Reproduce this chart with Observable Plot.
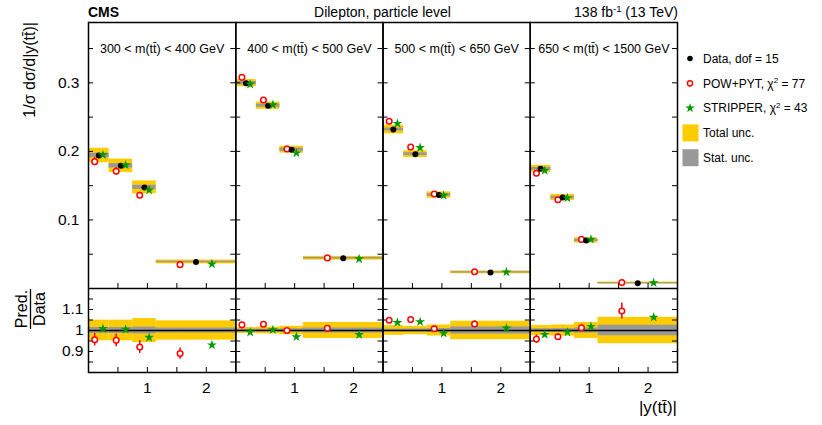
<!DOCTYPE html>
<html><head><meta charset="utf-8">
<script src="https://cdn.jsdelivr.net/npm/d3@7"></script>
<script src="https://cdn.jsdelivr.net/npm/@observablehq/plot@0.6"></script>
<style>
body{margin:0;background:#fff;}
#root{position:relative;width:822px;height:425px;overflow:hidden;background:#fff;}
#root svg{position:absolute;left:0;}
</style></head><body><div id="root"></div>
<script>
// ---------------- data ----------------
const binEdges = [0, 0.35, 0.75, 1.15, 2.5];
const panelLabels = [
  "300 < m(tt\u0304) < 400 GeV",
  "400 < m(tt\u0304) < 500 GeV",
  "500 < m(tt\u0304) < 650 GeV",
  "650 < m(tt\u0304) < 1500 GeV"
];
const dataValues = [
  [0.194, 0.179, 0.1475, 0.0387],
  [0.2995, 0.2667, 0.2025, 0.0441],
  [0.2319, 0.196, 0.1363, 0.0235],
  [0.1745, 0.1328, 0.0701, 0.0078]
];
const powValues = [
  [0.185, 0.171, 0.136, 0.0348],
  [0.308, 0.275, 0.2034, 0.0446],
  [0.244, 0.2063, 0.1378, 0.0245],
  [0.168, 0.1294, 0.0716, 0.0086]
];
const stripperValues = [
  [0.195, 0.180, 0.1436, 0.0357],
  [0.298, 0.268, 0.1975, 0.0431],
  [0.2407, 0.2054, 0.1358, 0.0240],
  [0.172, 0.132, 0.0716, 0.0083]
];
const powRatio = [
  [0.956, 0.953, 0.921, 0.890],
  [1.027, 1.030, 1.000, 1.011],
  [1.049, 1.052, 1.008, 1.031],
  [0.959, 0.970, 1.013, 1.093]
];
const stripperRatio = [
  [1.009, 1.005, 0.967, 0.931],
  [0.992, 1.003, 0.970, 0.980],
  [1.038, 1.041, 0.987, 1.011],
  [0.981, 0.992, 1.019, 1.063]
];
const powRatioErr = [
  [0.030, 0.030, 0.030, 0.027],
  [0.005, 0.005, 0.006, 0.006],
  [0.006, 0.006, 0.012, 0.015],
  [0.020, 0.016, 0.016, 0.038]
];
const stripperRatioErr = [
  [0.008, 0.008, 0.008, 0.008],
  [0.008, 0.008, 0.012, 0.010],
  [0.006, 0.006, 0.008, 0.008],
  [0.006, 0.006, 0.006, 0.008]
];
const totalRelUnc = [
  [0.049, 0.049, 0.057, 0.046],
  [0.014, 0.016, 0.020, 0.038],
  [0.023, 0.020, 0.026, 0.044],
  [0.024, 0.026, 0.038, 0.063]
];
const statRelUnc = [
  [0.014, 0.014, 0.016, 0.012],
  [0.006, 0.006, 0.008, 0.012],
  [0.006, 0.007, 0.009, 0.017],
  [0.008, 0.009, 0.012, 0.025]
];
const yTicksTop = [0.05, 0.1, 0.15, 0.2, 0.25, 0.3, 0.35];
const yLabelsTop = [0.1, 0.2, 0.3];
const yTicksRatio = [0.85, 0.9, 0.95, 1, 1.05, 1.1, 1.15];
const yLabelsRatio = [0.9, 1, 1.1];
const xTicks = [0.5, 1, 1.5, 2];
const xLabels = [1, 2];
const legendLabels = ["Data, dof = 15", "POW+PYT, \u03c7", "STRIPPER, \u03c7", "Total unc.", "Stat. unc."];
const legendChi2 = [null, "77", "43", null, null];

// ---------------- build table ----------------
const rows = [];
panelLabels.forEach((lab, p) => {
  for (let b = 0; b < binEdges.length - 1; b++) {
    const lo = binEdges[b], hi = binEdges[b + 1], w = hi - lo, c = (lo + hi) / 2;
    rows.push({
      panel: p, lo, hi, c, xp: c - 0.2 * w, xs: c + 0.2 * w,
      data: dataValues[p][b], pow: powValues[p][b], str: stripperValues[p][b],
      rp: powRatio[p][b], rs: stripperRatio[p][b],
      ep: powRatioErr[p][b], es: stripperRatioErr[p][b],
      tot: totalRelUnc[p][b], stat: statRelUnc[p][b]
    });
  }
});

const FONT = '"Liberation Sans", Arial, Helvetica, sans-serif';
const YEL = "#ffcc00", GRY = "#999999", RED = "#ff0000", GRN = "#009a00";
const W = 822, ML = 88, MR = 145;
const facetW = (W - ML - MR) / 4;
const TOP_H = 288, TOP_MT = 22;
const topInner = TOP_H - TOP_MT;
const BOT_H = 425 - TOP_H, BOT_MB = 53;
const botInner = BOT_H - BOT_MB;
const TL = 5;
const STAR_R = 3.1;

function edgeTicks(yT, inner) {
  return [
    Plot.tickY(yT, {y: d => d, insetRight: facetW - TL, stroke: "black", strokeWidth: 1}),
    Plot.tickY(yT, {y: d => d, insetLeft: facetW - TL, stroke: "black", strokeWidth: 1}),
    Plot.tickX(xTicks, {x: d => d, insetTop: inner - TL, stroke: "black", strokeWidth: 1})
  ];
}

const topPlot = Plot.plot({
  width: W, height: TOP_H, marginLeft: ML, marginRight: MR, marginTop: TOP_MT, marginBottom: 0,
  style: {fontFamily: FONT, fontSize: "15.5px", color: "black", background: "transparent"},
  fx: {domain: [0, 1, 2, 3], padding: 0, axis: null, round: false},
  x: {domain: [0, 2.5], axis: null},
  y: {domain: [0, 0.388], ticks: yLabelsTop, tickSize: 0, tickPadding: 9, tickFormat: d => String(d), label: null},
  marks: [
    Plot.rect(rows, {fx: "panel", x1: "lo", x2: "hi", y1: d => d.data * (1 - d.tot), y2: d => d.data * (1 + d.tot), fill: YEL, insetTop: -0.7, insetBottom: -0.7}),
    Plot.rect(rows, {fx: "panel", x1: "lo", x2: "hi", y1: d => d.data * (1 - d.stat), y2: d => d.data * (1 + d.stat), fill: GRY, insetTop: -0.4, insetBottom: -0.4}),
    ...edgeTicks(yTicksTop, topInner),
    Plot.ruleX(rows, {fx: "panel", x: "xp", y1: d => d.pow - d.ep * d.data, y2: d => d.pow + d.ep * d.data, stroke: RED, strokeWidth: 1.5}),
    Plot.dot(rows, {fx: "panel", x: "xp", y: "pow", r: 2.8, stroke: RED, fill: "white", strokeWidth: 1.5}),
    Plot.dot(rows, {fx: "panel", x: "c", y: "data", r: 3, fill: "black"}),
    Plot.ruleX(rows, {fx: "panel", x: "xs", y1: d => d.str - d.es * d.data, y2: d => d.str + d.es * d.data, stroke: GRN, strokeWidth: 1.5}),
    Plot.dot(rows, {fx: "panel", x: "xs", y: "str", symbol: "star", r: STAR_R, fill: GRN}),
    Plot.text(panelLabels, {fx: (d, i) => i, text: d => d, frameAnchor: "top", dy: 26, lineAnchor: "middle", fontSize: 12.5, fill: "black"}),
    Plot.frame({stroke: "black", strokeWidth: 1.5})
  ]
});

const botPlot = Plot.plot({
  width: W, height: BOT_H, marginLeft: ML, marginRight: MR, marginTop: 0, marginBottom: BOT_MB,
  style: {fontFamily: FONT, fontSize: "15.5px", color: "black", background: "transparent"},
  fx: {domain: [0, 1, 2, 3], padding: 0, axis: null, round: false},
  x: {domain: [0, 2.5], ticks: xLabels, tickSize: 0, tickPadding: 9, tickFormat: d => String(d), label: null},
  y: {domain: [0.8, 1.2], ticks: yLabelsRatio, tickSize: 0, tickPadding: 5, tickFormat: d => String(d), label: null},
  marks: [
    Plot.rect(rows, {fx: "panel", x1: "lo", x2: "hi", y1: d => 1 - d.tot, y2: d => 1 + d.tot, fill: YEL}),
    Plot.rect(rows, {fx: "panel", x1: "lo", x2: "hi", y1: d => 1 - d.stat, y2: d => 1 + d.stat, fill: GRY}),
    Plot.ruleY([1], {stroke: "black", strokeWidth: 1.5}),
    ...edgeTicks(yTicksRatio, botInner),
    Plot.ruleX(rows, {fx: "panel", x: "xp", y1: d => d.rp - d.ep, y2: d => d.rp + d.ep, stroke: RED, strokeWidth: 1.5}),
    Plot.dot(rows, {fx: "panel", x: "xp", y: "rp", r: 2.8, stroke: RED, fill: "white", strokeWidth: 1.5}),
    Plot.ruleX(rows, {fx: "panel", x: "xs", y1: d => d.rs - d.es, y2: d => d.rs + d.es, stroke: GRN, strokeWidth: 1.5}),
    Plot.dot(rows, {fx: "panel", x: "xs", y: "rs", symbol: "star", r: STAR_R, fill: GRN}),
    Plot.frame({stroke: "black", strokeWidth: 1.5})
  ]
});

const root = document.getElementById("root");
topPlot.style.top = "0px";
botPlot.style.top = TOP_H + "px";
root.appendChild(topPlot);
root.appendChild(botPlot);

// ---------------- free text & legend overlay ----------------
const ov = d3.select(root).append("svg")
  .attr("width", W).attr("height", 425)
  .style("top", "0px").style("left", "0px").style("position", "absolute")
  .style("font-family", FONT).style("pointer-events", "none");

ov.append("text").attr("x", ML).attr("y", 17).attr("font-size", 14).attr("font-weight", "bold").text("CMS");
ov.append("text").attr("x", ML + 2 * facetW).attr("y", 17).attr("font-size", 14).attr("text-anchor", "middle").text("Dilepton, particle level");
const lumi = ov.append("text").attr("x", W - MR + 1).attr("y", 17).attr("font-size", 14).attr("text-anchor", "end");
lumi.append("tspan").text("138 fb");
lumi.append("tspan").attr("dy", -5).attr("font-size", 9.5).text("-1");
lumi.append("tspan").attr("dy", 5).text(" (13 TeV)");

ov.append("text").attr("transform", `translate(35,${TOP_MT}) rotate(-90)`).attr("text-anchor", "end")
  .attr("font-size", 16).text("1/\u03c3 d\u03c3/d|y(tt\u0304)|");

const ratioMid = TOP_H + botInner / 2 - 21;
ov.append("text").attr("transform", `translate(27,${ratioMid}) rotate(-90)`).attr("text-anchor", "middle").attr("font-size", 16).text("Pred.");
ov.append("text").attr("transform", `translate(45,${ratioMid}) rotate(-90)`).attr("text-anchor", "middle").attr("font-size", 16).text("Data");
ov.append("line").attr("x1", 30.5).attr("x2", 30.5).attr("y1", ratioMid - 20).attr("y2", ratioMid + 20).attr("stroke", "black").attr("stroke-width", 1.3);

ov.append("text").attr("x", W - MR).attr("y", 413).attr("text-anchor", "end").attr("font-size", 17).text("|y(tt\u0304)|");

// legend
const lgX = 690, lgTx = 703, lgY0 = 58.5, lgDy = 24.8;
legendLabels.forEach((lab, i) => {
  const cy = lgY0 + i * lgDy;
  const g = ov.append("g");
  if (i === 0) g.append("circle").attr("cx", lgX).attr("cy", cy).attr("r", 2.8).attr("fill", "black");
  if (i === 1) g.append("circle").attr("cx", lgX).attr("cy", cy).attr("r", 2.6).attr("fill", "white").attr("stroke", RED).attr("stroke-width", 1.5);
  if (i === 2) g.append("path").attr("d", d3.symbol(d3.symbolStar, 28)()).attr("transform", `translate(${lgX},${cy})`).attr("fill", GRN);
  if (i === 3) g.append("rect").attr("x", lgX - 7.5).attr("y", cy - 8.5).attr("width", 16).attr("height", 17).attr("fill", YEL);
  if (i === 4) g.append("rect").attr("x", lgX - 7.5).attr("y", cy - 8.5).attr("width", 16).attr("height", 17).attr("fill", GRY);
  const t = g.append("text").attr("x", lgTx).attr("y", cy + 4.3).attr("font-size", 12);
  t.append("tspan").text(lab);
  if (legendChi2[i]) {
    t.append("tspan").attr("dy", -4.5).attr("font-size", 8).text("2");
    t.append("tspan").attr("dy", 4.5).text(" = " + legendChi2[i]);
  }
});
</script></body></html>
